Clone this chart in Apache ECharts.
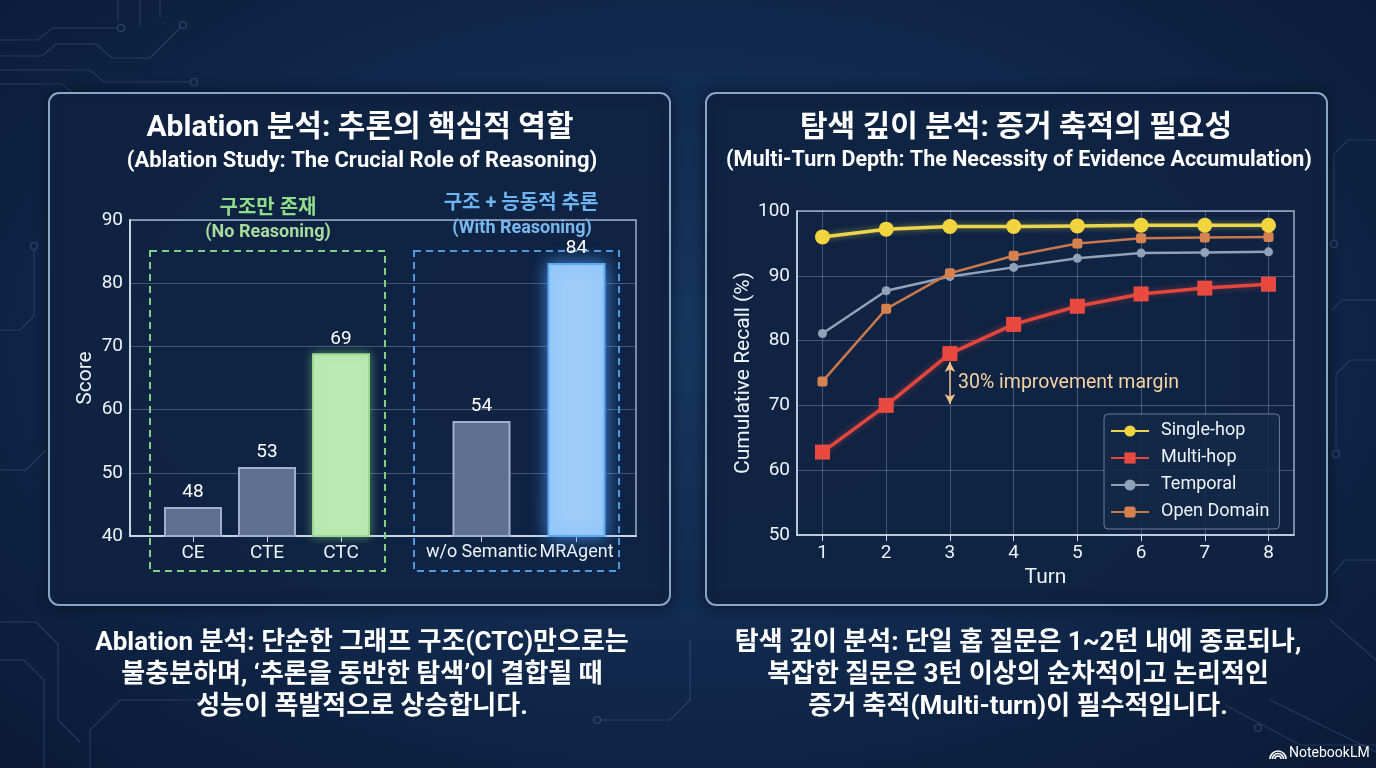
<!DOCTYPE html>
<html>
<head>
<meta charset="utf-8">
<script src="https://cdn.jsdelivr.net/npm/echarts@6/dist/echarts.min.js"></script>
<style>
html, body { margin: 0; padding: 0; }
#main {
	width: 1376px; height: 768px;
	background: radial-gradient(ellipse at 50% 45%, #17365f 0%, #10284b 55%, #0a1a35 100%);
}
</style>
</head>
<body>
<div id="main"></div>
<script>
// ablation bars (bar heights as drawn, labels as printed)
var noReasonCats = ['CE', 'CTE', 'CTC'];
var noReasonBars = [44.6, 50.9, 68.9];
var noReasonLabels = [48, 53, 69];
var withReasonCats = ['w/o Semantic', 'MRAgent'];
var withReasonBars = [58.2, 83.2];
var withReasonLabels = [54, 84];

// multi-turn recall
var turns = [1, 2, 3, 4, 5, 6, 7, 8];
var singleHop = [96.0, 97.2, 97.6, 97.6, 97.7, 97.8, 97.8, 97.8];
var multiHop = [62.8, 70.0, 78.0, 82.5, 85.3, 87.2, 88.1, 88.7];
var temporal = [81.1, 87.7, 89.9, 91.3, 92.7, 93.5, 93.6, 93.7];
var openDomain = [73.7, 84.9, 90.4, 93.1, 95.0, 95.8, 95.9, 96.0];

var FONT = 'Roboto, "Noto Sans CJK KR", "Liberation Sans", sans-serif';
var TXT = '#eef3fa';

function pairs(vals) {
	return turns.map(function (t, i) { return [t, vals[i]]; });
}

var gray = { color: '#5e7090', borderColor: '#9db0cf', borderWidth: 2 };
var green = { color: '#bce8b4', borderColor: '#9ad892', borderWidth: 2, shadowBlur: 10, shadowColor: 'rgba(140,230,140,0.45)' };
var blue = { color: '#9dcdf8', borderColor: '#5caaf0', borderWidth: 2, shadowBlur: 16, shadowColor: 'rgba(80,160,255,0.8)' };

// circuit traces in the background
var traces = [
	[[0, 40], [38, 40], [52, 28], [118, 28]],
	[[0, 56], [42, 56], [56, 44], [96, 44], [112, 58], [150, 58], [180, 28]],
	[[0, 70], [90, 70], [104, 82], [190, 82]],
	[[0, 84], [62, 84], [76, 96]],
	[[118, 0], [118, 22]], [[140, 0], [140, 26]], [[160, 0], [160, 18]],
	[[0, 470], [26, 470], [46, 450]],
	[[0, 330], [20, 330], [34, 316], [34, 250]],
	[[0, 622], [36, 622], [58, 644], [58, 720], [80, 742]],
	[[0, 660], [24, 660], [44, 680], [44, 768]],
	[[90, 768], [90, 730], [120, 700], [200, 700]],
	[[1376, 140], [1348, 140], [1334, 154], [1334, 240]],
	[[1376, 300], [1342, 300], [1332, 310]],
	[[1376, 360], [1350, 360], [1336, 374], [1336, 450]],
	[[1376, 560], [1345, 560], [1332, 575]],
	[[1225, 705], [1300, 745], [1376, 745]],
	[[1270, 700], [1376, 752]],
	[[1330, 620], [1376, 660]],
	[[690, 640], [690, 700], [670, 720], [600, 720]]
];
var traceDots = [[121, 28], [183, 25], [194, 82], [34, 246], [1334, 244], [1336, 454], [1258, 728], [597, 720]];

var graphics = [];
traces.forEach(function (pts) {
	graphics.push({ type: 'polyline', z: -5, shape: { points: pts }, style: { stroke: 'rgba(130,160,205,0.22)', lineWidth: 1.2, fill: null } });
});
traceDots.forEach(function (p) {
	graphics.push({ type: 'circle', z: -5, shape: { cx: p[0], cy: p[1], r: 3.5 }, style: { stroke: 'rgba(130,160,205,0.3)', lineWidth: 1.2, fill: 'none' } });
});

// panels
[49, 706].forEach(function (x) {
	graphics.push({
		type: 'rect', z: -2,
		shape: { x: x, y: 93, width: 621, height: 512, r: 10 },
		style: { fill: 'rgba(16,36,68,0.92)', stroke: '#88a4c7', lineWidth: 2, shadowBlur: 14, shadowColor: 'rgba(0,0,0,0.45)' }
	});
});

// group boxes
graphics.push({ type: 'rect', z: 1, shape: { x: 150, y: 251, width: 235, height: 320 }, style: { fill: 'none', stroke: '#7fcf85', lineWidth: 2, lineDash: [7, 5] } });
graphics.push({ type: 'rect', z: 1, shape: { x: 414, y: 251, width: 205, height: 320 }, style: { fill: 'none', stroke: '#4d9ae0', lineWidth: 2, lineDash: [7, 5] } });

function txt(text, x, y, font, color, extra) {
	var s = { text: text, x: x, y: y, font: font, fill: color, textAlign: 'center', textVerticalAlign: 'middle' };
	for (var k in extra) s[k] = extra[k];
	return { type: 'text', z: 10, style: s };
}

graphics.push(txt('Ablation 분석: 추론의 핵심적 역할', 360, 128, 'bold 30px ' + FONT, '#ffffff'));
graphics.push(txt('(Ablation Study: The Crucial Role of Reasoning)', 362, 161, 'bold 22px ' + FONT, '#ffffff'));
graphics.push(txt('탐색 깊이 분석: 증거 축적의 필요성', 1016, 128, 'bold 30px ' + FONT, '#ffffff'));
graphics.push(txt('(Multi-Turn Depth: The Necessity of Evidence Accumulation)', 1019, 161, 'bold 21.5px ' + FONT, '#ffffff'));

graphics.push(txt('구조만 존재', 268, 209, 'bold 20px ' + FONT, '#8fdc8a'));
graphics.push(txt('(No Reasoning)', 268, 232, 'bold 18px ' + FONT, '#a6dca0'));
graphics.push(txt('구조 + 능동적 추론', 521, 204, 'bold 20px ' + FONT, '#6cb4f2'));
graphics.push(txt('(With Reasoning)', 522, 228, 'bold 18px ' + FONT, '#78b8f0'));

graphics.push(txt('30% improvement margin', 958, 383, '19.5px ' + FONT, '#f6d2a4', { textAlign: 'left' }));

graphics.push(txt('Ablation 분석: 단순한 그래프 구조(CTC)만으로는\n불충분하며, ‘추론을 동반한 탐색’이 결합될 때\n성능이 폭발적으로 상승합니다.',
	362, 627, 'bold 26px ' + FONT, '#ffffff', { textVerticalAlign: 'top', lineHeight: 32 }));
graphics.push(txt('탐색 깊이 분석: 단일 홉 질문은 1~2턴 내에 종료되나,\n복잡한 질문은 3턴 이상의 순차적이고 논리적인\n증거 축적(Multi-turn)이 필수적입니다.',
	1018, 627, 'bold 26px ' + FONT, '#ffffff', { textVerticalAlign: 'top', lineHeight: 32 }));

// watermark
graphics.push(txt('NotebookLM', 1289, 753, '14px ' + FONT, '#ffffff', { textAlign: 'left' }));
[3, 5.5, 8].forEach(function (r) {
	graphics.push({ type: 'arc', z: 10, shape: { cx: 1278, cy: 759, r: r, startAngle: Math.PI, endAngle: Math.PI * 2 }, style: { stroke: '#ffffff', lineWidth: 1.6, fill: 'none' } });
});

var axisTxt = { color: TXT, fontSize: 19, fontFamily: FONT };
var frameColor = 'rgba(205,218,238,0.75)';
var splitColor = 'rgba(175,195,228,0.32)';

var barLabel = function (labels) {
	return {
		show: true, position: 'top', distance: 5, color: '#ffffff', fontSize: 19, fontFamily: FONT,
		formatter: function (p) { return labels[p.dataIndex]; }
	};
};

var myChart = echarts.init(document.getElementById('main'));
var option = {
	animation: false,
	textStyle: { fontFamily: FONT },
	graphic: graphics,
	grid: [
		{ left: 130, top: 220, width: 506, height: 316, show: true, borderColor: frameColor, borderWidth: 1.5, backgroundColor: 'transparent' },
		{ left: 156, top: 220, width: 222, height: 316 },
		{ left: 434, top: 220, width: 190, height: 316 },
		{ left: 797, top: 211, width: 497, height: 324, show: true, borderColor: frameColor, borderWidth: 1.5, backgroundColor: 'transparent' }
	],
	xAxis: [
		{ gridIndex: 0, type: 'value', min: 0, max: 1, axisLine: { show: true, lineStyle: { color: '#c9d6e8', width: 2 } },
			axisTick: { show: false }, axisLabel: { show: false }, splitLine: { show: false } },
		{ gridIndex: 1, type: 'category', data: noReasonCats, axisLine: { show: false },
			axisTick: { show: true, alignWithLabel: true, length: 6, lineStyle: { color: '#c9d6e8' } },
			axisLabel: Object.assign({ margin: 8, interval: 0 }, axisTxt) },
		{ gridIndex: 2, type: 'category', data: withReasonCats, axisLine: { show: false },
			axisTick: { show: true, alignWithLabel: true, length: 6, lineStyle: { color: '#c9d6e8' } },
			axisLabel: Object.assign({ margin: 8, interval: 0, hideOverlap: false }, axisTxt, { fontSize: 18 }) },
		{ gridIndex: 3, type: 'value', min: 0.6, max: 8.4, interval: 1,
			name: 'Turn', nameLocation: 'middle', nameGap: 32, nameTextStyle: { color: TXT, fontSize: 21, fontFamily: FONT },
			axisLine: { show: true, lineStyle: { color: '#d0dcec', width: 1.5 } },
			axisTick: { show: true, length: 6, customValues: turns, lineStyle: { color: '#d0dcec' } },
			axisLabel: Object.assign({ margin: 9, customValues: turns }, axisTxt),
			splitLine: { show: true, lineStyle: { color: splitColor } } }
	],
	yAxis: [
		{ gridIndex: 0, type: 'value', min: 40, max: 90, interval: 10,
			name: 'Score', nameLocation: 'middle', nameGap: 34, nameTextStyle: { color: TXT, fontSize: 21, fontFamily: FONT },
			axisLine: { show: true, lineStyle: { color: '#c9d6e8', width: 2 } }, axisTick: { show: false },
			axisLabel: Object.assign({ margin: 7 }, axisTxt),
			splitLine: { show: true, lineStyle: { color: splitColor } } },
		{ gridIndex: 1, type: 'value', min: 40, max: 90, show: false },
		{ gridIndex: 2, type: 'value', min: 40, max: 90, show: false },
		{ gridIndex: 3, type: 'value', min: 50, max: 100, interval: 10,
			name: 'Cumulative Recall (%)', nameLocation: 'middle', nameGap: 42, nameTextStyle: { color: TXT, fontSize: 21, fontFamily: FONT },
			axisLine: { show: true, lineStyle: { color: '#d0dcec', width: 1.5 } }, axisTick: { show: false },
			axisLabel: Object.assign({ margin: 7 }, axisTxt),
			splitLine: { show: true, lineStyle: { color: splitColor } } }
	],
	legend: {
		orient: 'vertical', left: 1104, top: 414,
		padding: [8, 10, 8, 6], itemWidth: 38, itemHeight: 14, itemGap: 9,
		backgroundColor: 'rgba(20,40,72,0.88)', borderColor: 'rgba(165,185,215,0.6)', borderWidth: 1, borderRadius: 4,
		textStyle: { color: TXT, fontSize: 18, fontFamily: FONT, padding: [0, 0, 0, 7] },
		data: ['Single-hop', 'Multi-hop', 'Temporal', 'Open Domain']
	},
	series: [
		{ type: 'bar', xAxisIndex: 1, yAxisIndex: 1, barWidth: 58, z: 3,
			data: noReasonBars.map(function (v, i) { return { value: v, itemStyle: i === 2 ? green : gray }; }),
			label: barLabel(noReasonLabels) },
		{ type: 'bar', xAxisIndex: 2, yAxisIndex: 2, barWidth: 58, z: 3,
			data: withReasonBars.map(function (v, i) { return { value: v, itemStyle: i === 1 ? blue : gray }; }),
			label: barLabel(withReasonLabels) },
		{ name: 'Single-hop', type: 'line', xAxisIndex: 3, yAxisIndex: 3, data: pairs(singleHop),
			symbol: 'circle', symbolSize: 15, z: 5,
			lineStyle: { color: '#ead64e', width: 3.5, shadowBlur: 6, shadowColor: 'rgba(240,215,70,0.5)' },
			itemStyle: { color: '#f2d53e' } },
		{ name: 'Multi-hop', type: 'line', xAxisIndex: 3, yAxisIndex: 3, data: pairs(multiHop),
			symbol: 'rect', symbolSize: 15, z: 5,
			lineStyle: { color: '#e2463d', width: 3.5, shadowBlur: 6, shadowColor: 'rgba(232,74,64,0.5)' },
			itemStyle: { color: '#e84a40' },
			markLine: {
				silent: true, symbol: ['arrow', 'arrow'], symbolSize: [8, 10],
				label: { show: false },
				lineStyle: { color: '#f0c08c', width: 1.5, type: 'solid' },
				data: [[{ coord: [3, 76.7] }, { coord: [3, 70.2] }]]
			} },
		{ name: 'Temporal', type: 'line', xAxisIndex: 3, yAxisIndex: 3, data: pairs(temporal),
			symbol: 'circle', symbolSize: 9, z: 4,
			lineStyle: { color: '#8fa3b8', width: 2.5 },
			itemStyle: { color: '#8fa3b8' } },
		{ name: 'Open Domain', type: 'line', xAxisIndex: 3, yAxisIndex: 3, data: pairs(openDomain),
			symbol: 'roundRect', symbolSize: 10, z: 4,
			lineStyle: { color: '#c8784c', width: 2.5 },
			itemStyle: { color: '#d58150' } }
	]
};
myChart.setOption(option);
</script>
</body>
</html>
